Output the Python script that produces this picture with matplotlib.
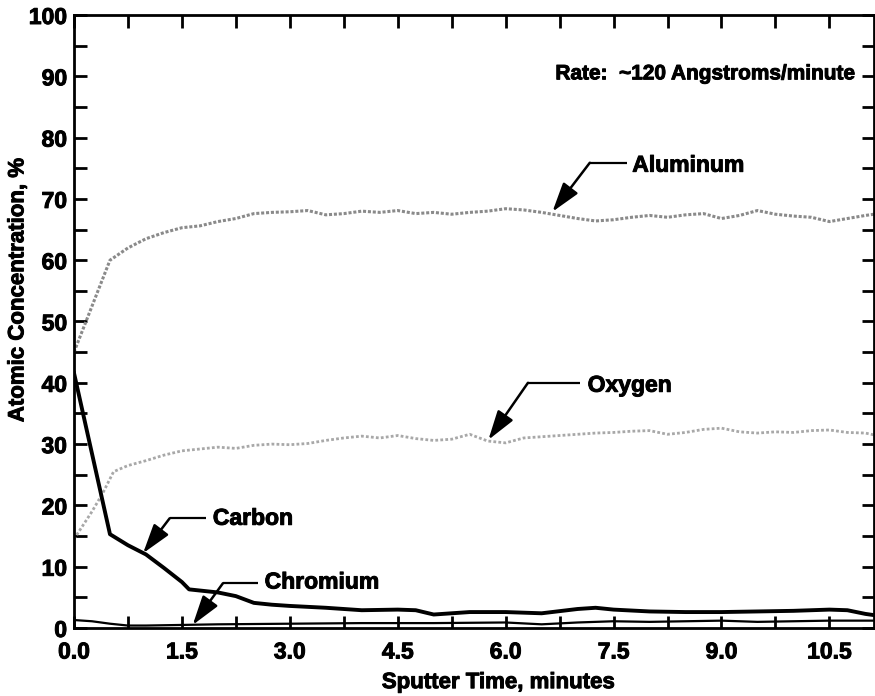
import numpy as np
import matplotlib.pyplot as plt
import matplotlib.patheffects as pe
from matplotlib.ticker import MultipleLocator

plt.rcParams['font.family'] = ['Liberation Sans', 'DejaVu Sans']
plt.rcParams['font.weight'] = 'bold'

# sputter time (minutes) and atomic concentration (%)
t_al = [0, 0.5, 0.75, 1.0, 1.25, 1.5, 1.75, 2.0, 2.25, 2.5, 2.75, 3.0, 3.25, 3.5, 3.75,
        4.0, 4.25, 4.5, 4.75, 5.0, 5.25, 5.5, 5.75, 6.0, 6.25, 6.5, 6.75, 7.0, 7.25,
        7.5, 7.75, 8.0, 8.25, 8.5, 8.75, 9.0, 9.25, 9.5, 9.75, 10.0, 10.25, 10.5,
        10.75, 11.0, 11.12]
aluminum = [45, 60, 62, 63.5, 64.5, 65.3, 65.6, 66.3, 66.8, 67.6, 67.8, 67.9, 68.1, 67.4,
            67.6, 68.0, 67.8, 68.1, 67.6, 67.8, 67.5, 67.8, 68.0, 68.4, 68.2, 67.8, 67.3,
            66.8, 66.4, 66.6, 67.0, 67.3, 67.0, 67.4, 67.6, 66.8, 67.3, 68.1, 67.5, 67.2,
            67.0, 66.3, 66.8, 67.3, 67.5]

t_ox = [0, 0.25, 0.4, 0.55, 0.75, 1.0, 1.25, 1.5, 1.75, 2.0, 2.25, 2.5, 2.75, 3.0, 3.25,
        3.5, 3.75, 4.0, 4.25, 4.5, 4.75, 5.0, 5.25, 5.5, 5.75, 6.0, 6.25, 6.5, 6.75, 7.0,
        7.25, 7.5, 7.75, 8.0, 8.25, 8.5, 8.75, 9.0, 9.25, 9.5, 9.75, 10.0, 10.25, 10.5,
        10.75, 11.0, 11.12]
oxygen = [14.5, 19, 22, 25.5, 26.5, 27.3, 28.2, 28.9, 29.2, 29.5, 29.3, 29.8, 30.0, 29.9,
          30.1, 30.6, 31.0, 31.3, 31.0, 31.4, 30.9, 30.6, 30.8, 31.6, 30.5, 30.2, 31.0,
          31.2, 31.4, 31.6, 31.8, 31.9, 32.1, 32.2, 31.6, 31.9, 32.4, 32.6, 32.0, 31.8,
          32.0, 31.9, 32.2, 32.3, 31.9, 31.8, 31.5]

t_c = [0, 0.5, 0.75, 1.0, 1.25, 1.5, 1.6, 2.0, 2.25, 2.5, 2.75, 3.0, 3.5, 4.0, 4.5, 4.75,
       5.0, 5.5, 6.0, 6.5, 7.0, 7.25, 7.5, 8.0, 8.5, 9.0, 9.5, 10.0, 10.5, 10.75, 11.0, 11.12]
carbon = [41.6, 15.3, 13.5, 12.0, 9.8, 7.5, 6.3, 5.8, 5.2, 4.1, 3.8, 3.6, 3.3, 2.9, 3.0,
          2.9, 2.2, 2.6, 2.6, 2.4, 3.1, 3.3, 3.0, 2.7, 2.6, 2.6, 2.7, 2.8, 3.0, 2.9, 2.3, 2.1]

t_cr = [0, 0.25, 0.5, 0.75, 1.0, 1.5, 2.0, 3.0, 4.0, 5.0, 6.0, 6.5, 7.0, 7.5, 8.0, 9.0,
        9.5, 10.0, 10.5, 11.12]
chromium = [1.3, 1.1, 0.7, 0.4, 0.4, 0.5, 0.6, 0.7, 0.8, 0.8, 0.9, 0.6, 0.9, 1.1, 1.0,
            1.2, 1.0, 1.1, 1.2, 1.2]

heavy = [pe.withStroke(linewidth=0.7, foreground='black')]

fig = plt.figure(figsize=(8.75, 6.96), dpi=100)
ax = fig.add_axes([74 / 875, 68 / 696, 800 / 875, 613 / 696])

ax.plot(t_al, aluminum, color='#8a8a8a', lw=2.2, ls=(0, (1, 0.6)))
ax.plot(t_ox, oxygen, color='#a8a8a8', lw=2.0, ls=(0, (1, 0.8)))
ax.plot(t_c, carbon, color='black', lw=2.8)
ax.plot(t_cr, chromium, color='black', lw=1.6)

ax.set_xlim(0, 11.12)
ax.set_ylim(0, 100)

ax.xaxis.set_major_locator(MultipleLocator(1.5))
ax.xaxis.set_minor_locator(MultipleLocator(0.75))
ax.yaxis.set_major_locator(MultipleLocator(10))
ax.yaxis.set_minor_locator(MultipleLocator(5))
ax.xaxis.set_major_formatter(lambda v, p: f'{v:.1f}')
ax.tick_params(which='both', direction='in', top=True, right=True, width=2,
               length=9, labelsize=16.5)
ax.tick_params(axis='x', pad=9)
ax.tick_params(axis='y', pad=5)
for s in ax.spines.values():
    s.set_linewidth(2)
for lab in ax.get_xticklabels() + ax.get_yticklabels():
    lab.set_fontweight('bold')
    lab.set_path_effects(heavy)

ax.set_xlabel('Sputter Time, minutes', fontsize=16, fontweight='bold', path_effects=heavy)
ax.xaxis.set_label_coords(0.53, -0.072)
ax.set_ylabel('Atomic Concentration, %', fontsize=16, fontweight='bold', path_effects=heavy)
ax.yaxis.set_label_coords(-0.057, 0.551)

ax.text(10.87, 90.4, 'Rate:  ~120 Angstroms/minute', fontsize=15, fontweight='bold',
        ha='right', va='center', path_effects=heavy)

# labels with leader lines and arrows
labels = [
    ('Aluminum', (7.76, 75.5), (7.68, 75.9), (7.17, 75.9), (6.65, 67.9)),
    ('Oxygen', (7.14, 39.6), (7.03, 40.0), (6.31, 40.0), (5.76, 30.7)),
    ('Carbon', (1.93, 17.9), (1.83, 17.9), (1.33, 17.9), (0.96, 12.2)),
    ('Chromium', (2.65, 7.5), (2.56, 7.3), (2.07, 7.3), (1.65, 0.5)),
]
for name, tpos, p0, p1, tip in labels:
    ax.text(tpos[0], tpos[1], name, fontsize=16.5, fontweight='bold', ha='left',
            va='center', path_effects=heavy)
    ax.plot([p0[0], p1[0]], [p0[1], p1[1]], color='black', lw=1.6, solid_capstyle='butt')
    ax.annotate('', xy=tip, xytext=p1,
                arrowprops=dict(arrowstyle='-|>,head_length=0.9,head_width=0.28',
                                mutation_scale=20, lw=1.8, color='black',
                                shrinkA=0, shrinkB=0))

fig.savefig('out.png', dpi=100)
